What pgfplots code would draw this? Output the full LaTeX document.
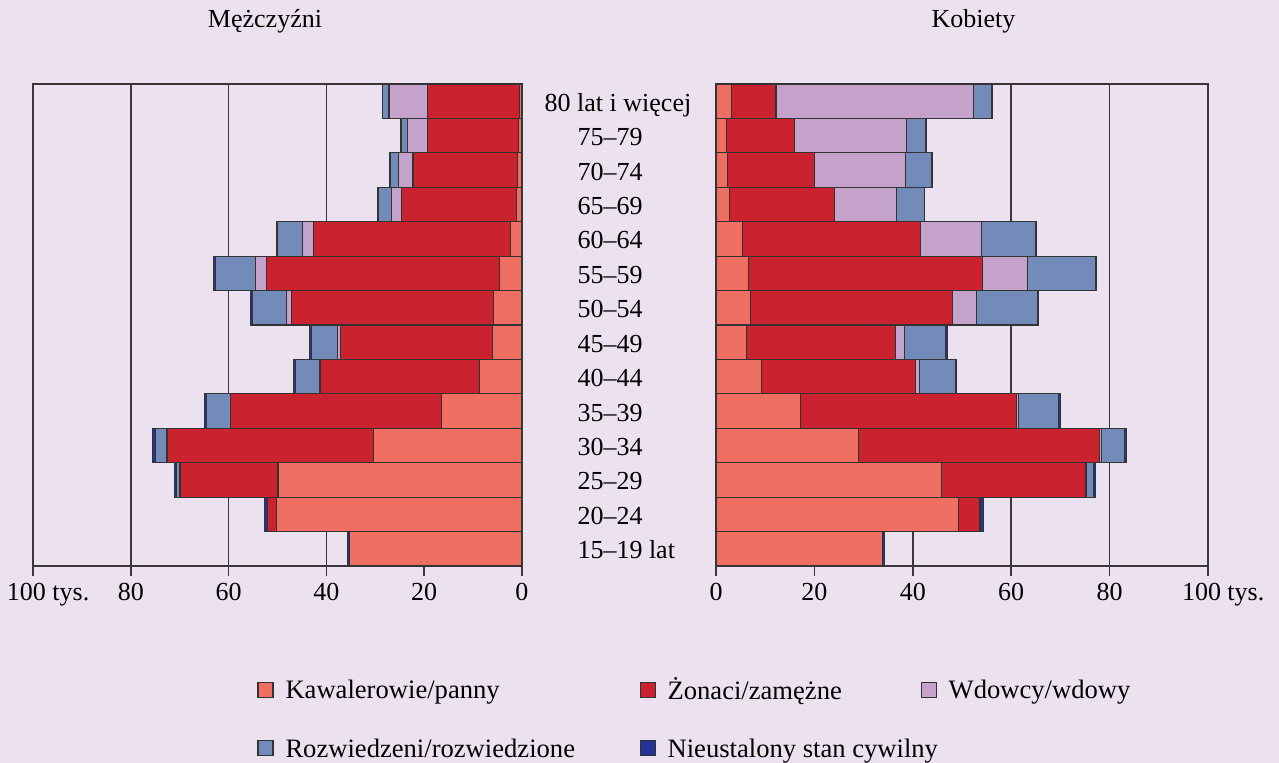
\documentclass[border=0pt]{standalone}
\usepackage{fontspec}
\setmainfont{Liberation Serif}
\usepackage{pgfplots}
\usepackage{pgfplotstable}
\pgfplotsset{compat=1.18}

\definecolor{bgc}{HTML}{ECE2EF}
\definecolor{gridc}{HTML}{3B3639}
\definecolor{kaw}{HTML}{EF6F62}
\definecolor{zon}{HTML}{CA222F}
\definecolor{wdo}{HTML}{C4A2C9}
\definecolor{roz}{HTML}{738BB9}
\definecolor{nie}{HTML}{253494}

% age groups: 0 = 15-19 ... 13 = 80+, values in thousands
\pgfplotstableread{
age K Z W R N
0 35.2 0.1 0 0 0.3
1 50.2 1.8 0 0.1 0.6
2 49.9 20.0 0.1 0.6 0.4
3 30.3 42.3 0.1 2.3 0.5
4 16.4 43.2 0.1 4.8 0.4
5 8.6 32.6 0.2 5.0 0.3
6 6.1 31.1 0.5 5.3 0.5
7 5.9 41.3 1.0 6.9 0.4
8 4.6 47.7 2.2 8.2 0.3
9 2.4 40.3 2.1 5.3 0.1
10 1.2 23.5 2.0 2.7 0.1
11 1.0 21.3 2.9 1.8 0.1
12 0.8 18.6 4.0 1.3 0.1
13 0.5 18.8 7.9 1.3 0.1
}\men

\pgfplotstableread{
age K Z W R N
0 33.8 0.1 0 0 0.3
1 49.3 4.3 0 0.2 0.6
2 45.8 29.4 0.1 1.4 0.4
3 29.0 49.0 0.4 4.7 0.4
4 17.1 44.0 0.3 8.2 0.5
5 9.3 31.3 0.7 7.3 0.3
6 6.2 30.3 1.8 8.4 0.3
7 7.0 41.0 4.9 12.4 0.2
8 6.6 47.6 9.1 13.9 0.1
9 5.3 36.3 12.4 11.0 0.1
10 2.8 21.2 12.6 5.7 0.1
11 2.4 17.7 18.5 5.2 0.1
12 2.1 13.8 22.9 3.8 0.1
13 3.2 9.0 40.2 3.7 0.1
}\women

\pgfplotsset{
  pyramid/.style={
    scale only axis, height=241pt, anchor=south west,
    xbar stacked, bar width=1,
    ymin=-0.5, ymax=13.5,
    xmin=0, xmax=100,
    xtick={0,20,...,100},
    xticklabels={0,20,40,60,80,{\makebox[0pt]{\hspace{-6.5pt}100\rlap{ tys.}}}},
    xtick pos=bottom,
    tick align=outside, major tick length=5pt,
    xmajorgrids,
    grid style={gridc, line width=0.8pt},
    axis line style={gridc, line width=0.8pt},
    x tick style={gridc, line width=0.8pt},
    ytick style={draw=none},
    title style={at={(0.5,1)}, anchor=base, yshift=22pt},
    every axis plot/.append style={draw=black!80, line width=0.55pt},
  },
}

\begin{document}
\begin{tikzpicture}[font=\fontsize{13pt}{15.6pt}\selectfont]
\path[use as bounding box, fill=bgc] (0pt,0pt) rectangle (639.5pt,-381.5pt);

\begin{axis}[pyramid, at={(16.5pt,-283pt)}, width=244.5pt, x dir=reverse,
  ytick=\empty,
  title={Mężczyźni}, title style={xshift=-6.25pt},
  legend columns=3, legend cell align=left,
  legend style={at={(0.4581,-0.2303)}, anchor=north west, draw=none,
    fill=none, inner sep=0pt, column sep=0pt, row sep=17pt,
    font=\fontsize{13.3pt}{15pt}\selectfont, nodes={inner sep=0pt}},
  legend image code/.code={\draw[#1] (0pt,-3.75pt) rectangle (7.5pt,3.75pt);},
]
\addplot[fill=kaw] table[x=K,y=age]{\men};
\addlegendentry{\makebox[183pt][l]{\hspace{6pt}Kawalerowie/panny\strut}}
\addplot[fill=zon] table[x=Z,y=age]{\men};
\addlegendentry{\makebox[132.5pt][l]{\hspace{6pt}Żonaci/zamężne\strut}}
\addplot[fill=wdo] table[x=W,y=age]{\men};
\addlegendentry{\hspace{6pt}Wdowcy/wdowy\strut}
\addplot[fill=roz] table[x=R,y=age]{\men};
\addlegendentry{\makebox[183pt][l]{\hspace{6pt}Rozwiedzeni/rozwiedzione\strut}}
\addplot[fill=nie] table[x=N,y=age]{\men};
\addlegendentry{\makebox[132.5pt][l]{\hspace{6pt}Nieustalony stan cywilny\strut}}
\end{axis}

\begin{axis}[pyramid, at={(358pt,-283pt)}, width=246pt,
  title={Kobiety}, title style={xshift=5.75pt},
  ytick={0,...,13},
  yticklabels={15--19\rlap{ lat},20--24,25--29,30--34,35--39,40--44,45--49,
    50--54,55--59,60--64,65--69,70--74,75--79,\hspace{8pt}80 lat i więcej},
  yticklabel style={anchor=base, xshift=-48pt, yshift=-5pt},
]
\addplot[fill=kaw] table[x=K,y=age]{\women};
\addplot[fill=zon] table[x=Z,y=age]{\women};
\addplot[fill=wdo] table[x=W,y=age]{\women};
\addplot[fill=roz] table[x=R,y=age]{\women};
\addplot[fill=nie] table[x=N,y=age]{\women};
\end{axis}
\end{tikzpicture}
\end{document}
